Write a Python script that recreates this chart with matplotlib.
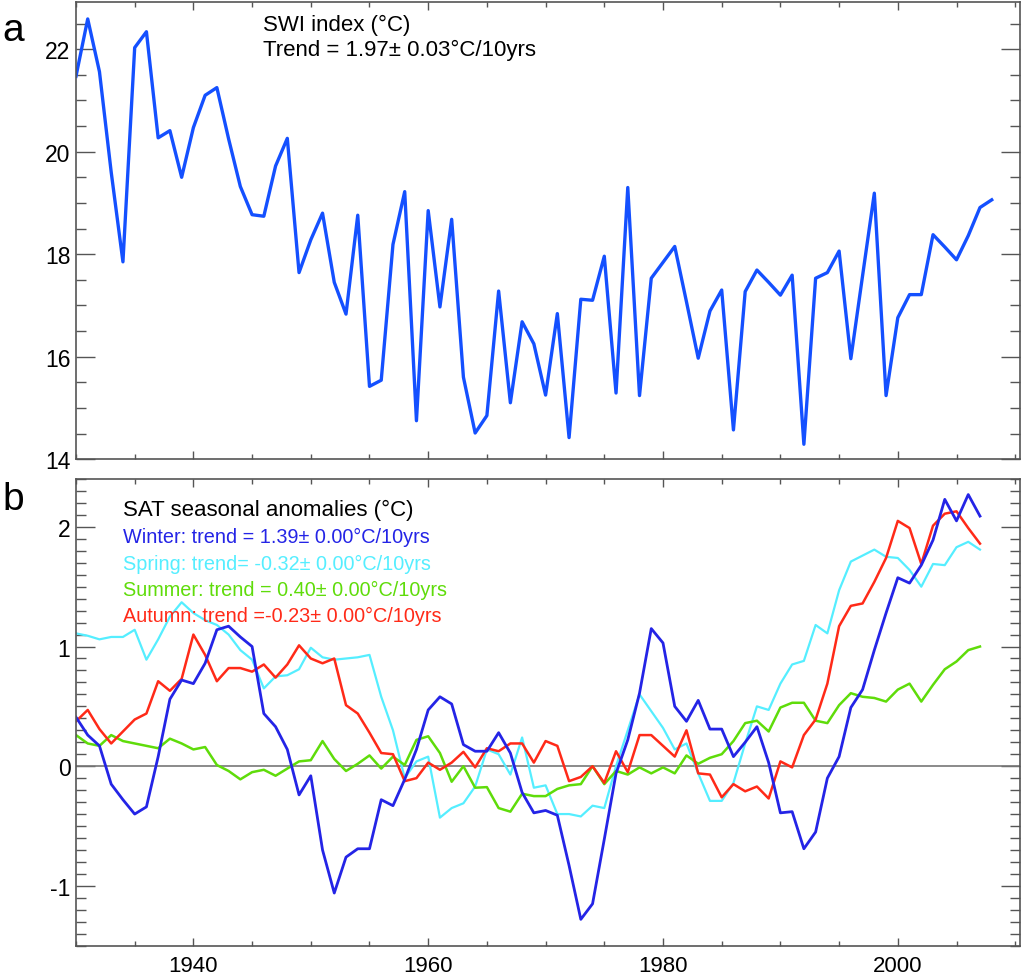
import numpy as np
import matplotlib
matplotlib.use('Agg')
import matplotlib.pyplot as plt
from matplotlib.ticker import MultipleLocator

plt.rcParams['font.family'] = ['Liberation Sans', 'DejaVu Sans']
plt.rcParams['axes.unicode_minus'] = False

# SWI index, 1930-2008
swi_years = np.arange(1930, 2009)
swi = [21.47, 22.59, 21.56, 19.6, 17.85, 22.03, 22.34, 20.27, 20.41, 19.5,
       20.47, 21.1, 21.25, 20.25, 19.32, 18.77, 18.74, 19.72, 20.26, 17.64,
       18.28, 18.8, 17.45, 16.83, 18.76, 15.42, 15.54, 18.19, 19.22, 14.75,
       18.85, 16.97, 18.68, 15.6, 14.51, 14.85, 17.28, 15.1, 16.68, 16.25,
       15.25, 16.84, 14.42, 17.12, 17.1, 17.96, 15.29, 19.3, 15.24, 17.53,
       17.84, 18.15, 17.07, 15.97, 16.89, 17.3, 14.57, 17.27, 17.69, 17.45,
       17.2, 17.59, 14.29, 17.53, 17.64, 18.06, 15.96, 17.58, 19.19, 15.24,
       16.76, 17.21, 17.21, 18.38, 18.14, 17.89, 18.36, 18.91, 19.06]

# SAT seasonal anomalies, 1930-2007
sat_years = np.arange(1930, 2008)
winter = [0.41, 0.26, 0.17, -0.15, -0.28, -0.40, -0.34, 0.08, 0.56, 0.72,
          0.69, 0.86, 1.14, 1.17, 1.08, 1.0, 0.44, 0.33, 0.14, -0.24,
          -0.08, -0.7, -1.06, -0.76, -0.69, -0.69, -0.28, -0.33, -0.11, 0.14,
          0.47, 0.58, 0.52, 0.18, 0.125, 0.125, 0.28, 0.11, -0.22, -0.39,
          -0.37, -0.41, -0.83, -1.28, -1.15, -0.61, -0.06, 0.22, 0.61, 1.15,
          1.03, 0.50, 0.375, 0.55, 0.31, 0.31, 0.08, 0.2, 0.33, 0.03,
          -0.39, -0.38, -0.69, -0.55, -0.1, 0.08, 0.49, 0.64, 0.97, 1.28,
          1.575, 1.53, 1.68, 1.89, 2.23, 2.05, 2.27, 2.09]
spring = [1.11, 1.09, 1.06, 1.08, 1.08, 1.14, 0.89, 1.06, 1.25, 1.37,
          1.28, 1.22, 1.18, 1.1, 0.97, 0.89, 0.65, 0.75, 0.76, 0.81,
          0.99, 0.91, 0.89, 0.9, 0.91, 0.93, 0.58, 0.3, -0.1, 0.04,
          0.08, -0.43, -0.35, -0.31, -0.17, 0.14, 0.10, -0.07, 0.24, -0.18,
          -0.16, -0.40, -0.40, -0.42, -0.33, -0.35, 0.0, 0.3, 0.6, 0.46,
          0.32, 0.14, 0.19, -0.06, -0.29, -0.29, -0.14, 0.19, 0.5, 0.47,
          0.69, 0.85, 0.88, 1.18, 1.11, 1.47, 1.71, 1.76, 1.81, 1.75,
          1.74, 1.64, 1.5, 1.69, 1.68, 1.83, 1.875, 1.81]
summer = [0.26, 0.19, 0.17, 0.26, 0.21, 0.19, 0.17, 0.15, 0.23, 0.19,
          0.14, 0.16, 0.01, -0.04, -0.11, -0.05, -0.03, -0.08, -0.02, 0.04,
          0.05, 0.21, 0.06, -0.04, 0.02, 0.09, -0.02, 0.08, 0.01, 0.22,
          0.25, 0.11, -0.13, 0.0, -0.18, -0.175, -0.35, -0.38, -0.23, -0.25,
          -0.25, -0.19, -0.16, -0.15, 0.0, -0.15, -0.04, -0.07, -0.01, -0.06,
          -0.01, -0.06, 0.09, 0.02, 0.07, 0.1, 0.21, 0.36, 0.38, 0.29,
          0.49, 0.53, 0.53, 0.38, 0.36, 0.51, 0.61, 0.58, 0.57, 0.54,
          0.64, 0.69, 0.54, 0.68, 0.81, 0.875, 0.97, 1.0]
autumn = [0.375, 0.47, 0.31, 0.19, 0.29, 0.39, 0.44, 0.71, 0.63, 0.73,
          1.10, 0.93, 0.71, 0.82, 0.82, 0.79, 0.85, 0.74, 0.85, 1.01,
          0.90, 0.86, 0.90, 0.51, 0.44, 0.28, 0.11, 0.10, -0.125, -0.10,
          0.03, -0.03, 0.03, 0.12, -0.01, 0.15, 0.125, 0.19, 0.19, 0.03,
          0.21, 0.17, -0.125, -0.09, 0.0, -0.14, 0.125, -0.05, 0.26, 0.26,
          0.17, 0.08, 0.30, -0.06, -0.07, -0.26, -0.15, -0.21, -0.17, -0.27,
          0.04, -0.01, 0.26, 0.39, 0.69, 1.17, 1.34, 1.36, 1.54, 1.74,
          2.05, 1.99, 1.69, 2.01, 2.11, 2.13, 1.99, 1.86]

c_winter = '#2424e6'
c_spring = '#55eeff'
c_summer = '#5fdc0a'
c_autumn = '#ff2a18'
c_axis = '#555555'

fig = plt.figure(figsize=(10.24, 9.79), dpi=100)
ax1 = fig.add_axes([0.0742, 0.530, 0.9218, 0.4669])
ax2 = fig.add_axes([0.0742, 0.0324, 0.9218, 0.4773])


def style(ax):
    for s in ax.spines.values():
        s.set_color(c_axis)
        s.set_linewidth(1.2)
    ax.tick_params(which='both', direction='in', top=True, right=True,
                   colors=c_axis, labelcolor='black', labelsize=16.5)
    ax.tick_params(axis='y', which='major', length=13.5, width=1, pad=4)
    ax.tick_params(axis='y', which='minor', length=7, width=1)
    ax.tick_params(axis='x', which='major', length=6, width=1, pad=6)
    ax.tick_params(axis='x', which='minor', length=3.5, width=1)
    ax.xaxis.set_major_locator(MultipleLocator(20))
    ax.xaxis.set_minor_locator(MultipleLocator(5))
    ax.set_xlim(1930, 2010.4)


# panel a
style(ax1)
ax1.plot(swi_years, swi, color='#1450ff', lw=2.4)
ax1.set_ylim(14, 22.92)
ax1.yaxis.set_major_locator(MultipleLocator(2))
ax1.yaxis.set_minor_locator(MultipleLocator(0.5))
ax1.tick_params(axis='x', labelbottom=False)
ax1.text(0.198, 0.952, 'SWI index (\u00b0C)', transform=ax1.transAxes, fontsize=16, va='center')
ax1.text(0.198, 0.897, 'Trend = 1.97\u00b1 0.03\u00b0C/10yrs', transform=ax1.transAxes, fontsize=16, va='center')
fig.text(0.002, 0.968, 'a', fontsize=28, va='center')

# panel b
style(ax2)
ax2.axhline(0, color='#777777', lw=1.2)
ax2.plot(sat_years, spring, color=c_spring, lw=1.6)
ax2.plot(sat_years, summer, color=c_summer, lw=1.8)
ax2.plot(sat_years, autumn, color=c_autumn, lw=1.8)
ax2.plot(sat_years, winter, color=c_winter, lw=2.0)
ax2.set_ylim(-1.505, 2.4)
ax2.yaxis.set_major_locator(MultipleLocator(1))
ax2.yaxis.set_minor_locator(MultipleLocator(0.1))
ax2.set_xticks([1940, 1960, 1980, 2000])
ax2.tick_params(axis='x', labelsize=16)

tx = 0.0495
ax2.text(tx, 0.935, 'SAT seasonal anomalies (\u00b0C)', transform=ax2.transAxes, fontsize=16, va='center')
ax2.text(tx, 0.878, 'Winter: trend = 1.39\u00b1 0.00\u00b0C/10yrs', transform=ax2.transAxes,
         fontsize=14.3, va='center', color=c_winter)
ax2.text(tx, 0.820, 'Spring: trend= -0.32\u00b1 0.00\u00b0C/10yrs', transform=ax2.transAxes,
         fontsize=14.3, va='center', color=c_spring)
ax2.text(tx, 0.764, 'Summer: trend = 0.40\u00b1 0.00\u00b0C/10yrs', transform=ax2.transAxes,
         fontsize=14.3, va='center', color=c_summer)
ax2.text(tx, 0.708, 'Autumn: trend =-0.23\u00b1 0.00\u00b0C/10yrs', transform=ax2.transAxes,
         fontsize=14.3, va='center', color=c_autumn)
fig.text(0.002, 0.489, 'b', fontsize=28, va='center')

fig.savefig('out.png', dpi=100)
